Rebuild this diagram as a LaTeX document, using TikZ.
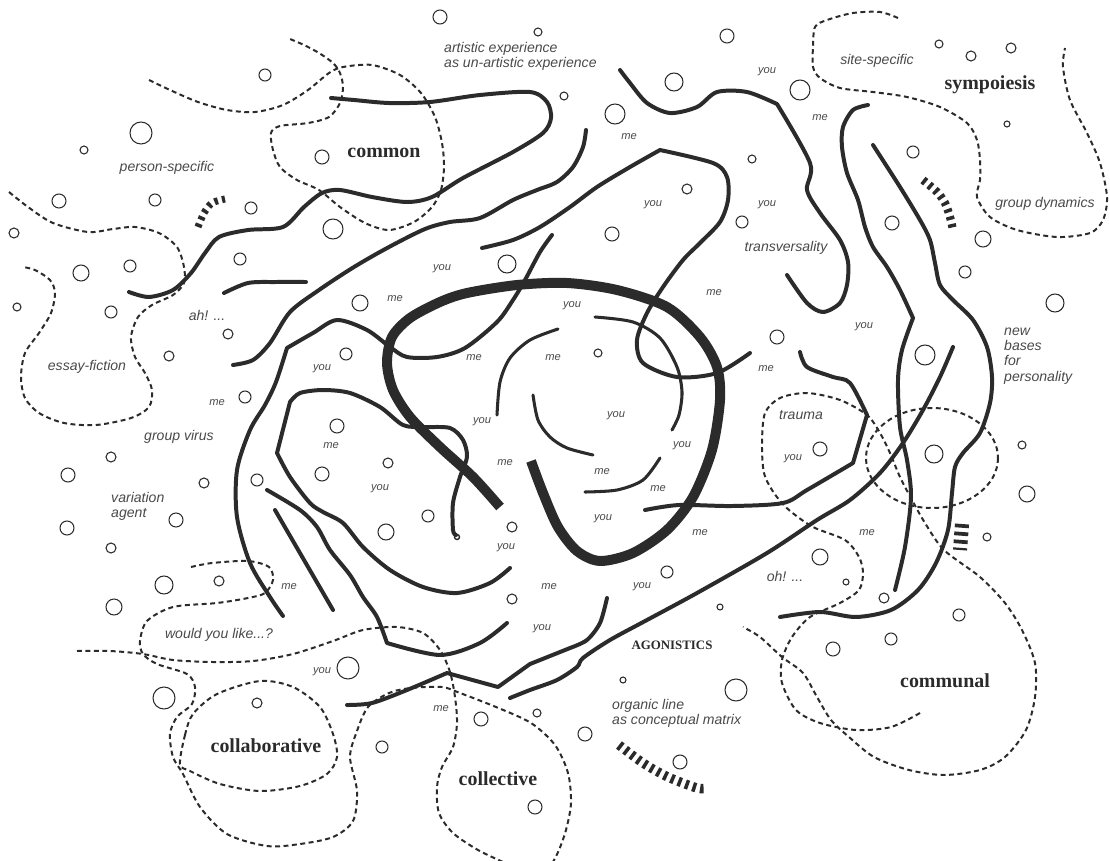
\documentclass[tikz,border=0pt]{standalone}
\usepackage{fontspec}
\setmainfont{Liberation Serif}
\newfontfamily\labelfont{Liberation Sans}
\usetikzlibrary{calc}
\definecolor{ink}{HTML}{2B2B2B}
\definecolor{txt}{HTML}{4A4A4A}

\begin{document}
\begin{tikzpicture}[x=0.03cm,y=-0.03cm,
  strand/.style={draw=ink,line width=3.4pt,line cap=round,line join=round},
  finestrand/.style={strand,line width=2.6pt},
  ring/.style={draw=ink,line width=8.5pt,line cap=butt,line join=round},
  trail/.style={draw=ink,line width=1.7pt,dash pattern=on 4.2pt off 3pt},
  bubble/.style={draw=ink,line width=0.9pt},
  hatch/.style={draw=ink,line width=#1,dash pattern=on 3pt off 3.6pt},
  word/.style={text=txt,font=\labelfont\itshape\fontsize{12}{13}\selectfont,inner sep=0pt},
  pron/.style={text=txt,font=\labelfont\itshape\fontsize{9.5}{11}\selectfont,inner sep=0pt},
  realm/.style={text=ink,font=\bfseries\fontsize{17}{20}\selectfont,inner sep=0pt}]
\useasboundingbox (0,0) rectangle (1110,861);
\fill[white] (0,0) rectangle (1110,861);

% dotted territories
\draw[trail] plot[smooth] coordinates {(149,80) (170,90) (198,102) (227,110) (255,112) (283,105) (308,90) (329,73) (343,67) (372,65) (400,75) (421,93) (435,117) (442,143) (444,167) (441,190) (432,207) (414,222) (389,230) (365,223) (340,207) (319,190) (297,180) (280,167) (273,150) (271,133) (280,126) (308,123) (329,117) (340,103) (343,87) (340,73) (333,63) (319,53) (304,45) (290,39)};
\draw[trail] plot[smooth] coordinates {(9,192) (28,207) (53,223) (88,232) (113,229) (135,227) (159,233) (177,247) (184,267) (184,283) (173,295) (152,305) (138,317) (131,337) (135,357) (145,373) (152,390) (149,407) (131,418) (96,425) (64,423) (39,413) (25,398) (21,377) (25,353) (39,333) (51,313) (55,293) (50,280) (35,270) (23,267)};
\draw[trail] plot[smooth] coordinates {(898,18) (880,12) (853,13) (827,20) (815,27) (813,47) (813,67) (820,78) (840,88) (873,92) (907,97) (940,107) (967,123) (977,140) (980,160) (980,180) (977,197) (990,217) (1017,230) (1057,237) (1090,233) (1103,220) (1107,197) (1100,163) (1087,133) (1070,100) (1063,67) (1065,48)};
\draw[trail] plot[smooth] coordinates {(920,713) (891,727) (856,730) (820,723) (796,710) (782,683) (782,660) (792,637) (810,617) (840,603) (859,590) (863,573) (859,557) (845,540) (813,527) (789,510) (774,493) (764,473) (762,443) (765,413) (780,398) (807,393) (840,400) (867,415) (880,433) (890,453) (900,477) (912,500) (925,523) (944,550) (980,577) (1005,603) (1022,630) (1035,663) (1035,697) (1026,730) (1005,757) (980,770) (944,775) (909,770) (874,757) (849,737) (831,720) (817,697) (803,673) (782,657) (760,637) (743,627)};
\draw[trail] (932,458) ellipse[x radius=66,y radius=50];
\draw[trail] plot[smooth] coordinates {(77,651) (110,651) (143,654) (173,660) (213,662) (253,661) (293,654) (333,641) (363,630) (397,627) (423,633) (440,650) (450,672) (455,697) (457,723) (453,747) (442,767) (437,787) (439,813) (453,833) (478,850) (503,862)};
\draw[trail] plot[smooth] coordinates {(191,567) (212,563) (248,561) (269,567) (273,580) (265,593) (248,598) (217,603) (173,607) (147,621) (140,641) (143,654) (157,664) (187,674) (195,687) (192,704) (177,717) (170,734) (173,757) (183,774) (200,807) (227,834) (267,846) (300,844) (333,837) (353,821) (357,791) (350,757) (357,731) (368,707) (389,693) (411,688) (442,687) (460,693) (496,707) (531,723) (555,745) (568,773) (571,803) (566,830) (559,850) (553,862)};
\draw[trail] plot[smooth cycle] coordinates {(180,764) (185,735) (193,714) (217,694) (260,681) (293,687) (320,707) (333,734) (337,757) (327,774) (300,786) (260,791) (220,784) (190,771)};

% organic lines
\draw[strand] plot[smooth] coordinates {(129,292) (149,297) (173,290) (191,273) (205,253) (219,237) (248,230) (283,227) (304,207) (322,193) (340,190) (372,197) (407,202) (432,197) (463,178) (513,152) (543,133) (551,118) (547,102) (530,92) (480,95) (430,102) (389,103) (354,100) (331,98)};
\draw[strand] plot[smooth] coordinates {(224,293) (248,283) (276,282) (306,282)};
\draw[strand] plot[smooth] coordinates {(233,365) (253,360) (270,343) (290,312) (319,290) (354,267) (389,247) (425,229) (450,222) (480,218) (513,200) (537,190) (557,182) (573,167) (583,147) (586,130)};
\draw[strand] plot[smooth] coordinates {(482,248) (513,240) (540,227) (570,207) (597,187) (630,167) (660,150)}
  -- plot[smooth] coordinates {(660,150) (713,163) (727,177) (728,200) (720,222) (700,243) (683,260) (663,287) (647,313) (637,340) (643,363) (677,377) (717,373) (750,353)};
\draw[strand] plot[smooth] coordinates {(620,70) (630,83) (647,103) (670,113) (697,107) (717,92) (747,92) (777,104)}
  -- plot[smooth] coordinates {(777,104) (810,163) (807,190) (820,213) (840,240) (848,262) (847,285) (840,303) (823,312) (807,303) (787,275)};
\draw[strand] plot[smooth] coordinates {(868,105) (853,110) (843,127) (842,147) (847,173) (858,200) (865,227) (873,247) (887,267) (900,290) (913,318)}
  -- plot[smooth] coordinates {(913,318) (902,350) (898,380) (900,427) (907,460) (911,497) (905,547) (895,590)};
\draw[strand] plot[smooth] coordinates {(873,145) (900,187) (920,220) (930,240) (935,263) (940,285) (953,300) (973,320) (987,347) (992,377) (990,403) (980,433) (963,453) (955,467) (952,493) (948,530) (936,563) (918,590) (891,610) (856,617) (820,612) (780,617)};
\draw[strand] plot[smooth] coordinates {(953,347) (940,377) (923,410) (903,443) (880,473) (850,500) (817,520) (767,553) (697,593) (647,620) (610,640) (583,658) (577,667) (557,680) (530,690) (510,698)};
\draw[strand] plot[smooth] coordinates {(607,598) (600,623) (587,640) (570,648)} -- (530,664) -- (498,687) -- (447,673)
  -- plot[smooth] coordinates {(447,673) (407,690) (372,703) (347,705)};
\draw[strand] plot[smooth] coordinates {(510,568) (490,583) (457,593) (423,587) (390,570) (363,547) (343,523) (323,512) (310,503) (290,477) (277,453)}
  -- (290,402) -- plot[smooth] coordinates {(290,402) (300,393) (323,390) (350,393) (380,407) (403,425) (423,427) (450,428) (463,440) (467,457) (460,477) (453,503) (453,530) (456,535)};
\draw[ink,line width=1.2pt] (457,537) circle[radius=2.5];
\draw[strand] plot[smooth] coordinates {(283,616) (270,597) (250,563) (237,517) (237,470) (250,430) (265,405) (276,382) (287,348)}
  -- plot[smooth] coordinates {(287,348) (313,333) (337,320) (367,330) (390,347) (407,357) (437,357) (465,348) (497,322) (513,300) (525,280) (540,252) (552,235)};
\draw[strand] plot[smooth] coordinates {(267,490) (300,510) (317,527) (330,550) (350,575) (363,597) (377,617) (387,643)}
  -- plot[smooth] coordinates {(387,643) (440,655) (480,643) (507,623)};
\draw[strand] (275,510) -- (333,610);
\draw[strand] plot[smooth] coordinates {(645,510) (679,505) (732,506) (783,503) (807,490) (853,463)} -- (867,415)
  -- plot[smooth] coordinates {(867,415) (850,383) (833,377) (807,367) (800,352)};

% inner arcs
\draw[finestrand] plot[smooth] coordinates {(558,329) (530,340) (510,358) (500,382) (497,415)};
\draw[finestrand] plot[smooth] coordinates {(595,317) (633,322) (660,338) (677,367) (682,392) (679,415) (672,430)};
\draw[finestrand] plot[smooth] coordinates {(533,395) (538,420) (550,437) (567,448) (593,455)};
\draw[finestrand] plot[smooth] coordinates {(660,458) (643,480) (617,490) (585,492)};

% the heavy ring
\draw[ring] plot[smooth] coordinates {(500,507) (473,477) (440,447) (410,417) (393,390) (387,363) (392,337) (410,318) (440,302) (467,293) (517,285) (567,283) (617,290) (667,307) (700,337) (717,367) (720,400) (712,450) (693,497) (667,530) (633,553) (600,561) (577,551) (558,527) (543,493) (531,461)};

% hatched marks
\draw[hatch=6pt] plot[smooth] coordinates {(198,227) (204,213) (212,203) (225,199)};
\draw[hatch=7pt] plot[smooth] coordinates {(923,180) (937,192) (945,203) (950,217) (953,230)};
\draw[hatch=8pt] plot[smooth] coordinates {(619,745) (643,763) (668,777) (697,788) (707,788)};
\draw[draw=ink,line width=12pt,dash pattern=on 3.2pt off 3.6pt] (962,524) -- (960,550);

% bubbles
\foreach \cx/\cy/\cr in {440/17/7, 538/32/4, 265/75/6, 141/133/11, 84/150/4, 322/157/7, 59/201/7, 155/200/6,
  251/208/6, 333/229/10, 14/233/5, 81/273/8, 130/266/6, 240/259/6, 507/264/9, 17/307/4, 111/312/6, 360/303/8,
  228/334/5, 169/356/5, 346/354/6, 245/397/6, 337/426/7, 727/36/7, 674/82/9, 564/96/4, 615/114/10, 800/90/10,
  939/44/4, 971/56/5, 1011/48/5, 1007/124/3, 913/152/6, 752/159/4, 687/189/5, 612/234/7, 742/222/6, 892/223/7,
  983/239/8, 965/272/6, 1055/303/9, 777/337/7, 598/353/4, 925/355/10, 820/449/7, 934/454/9, 1022/445/4,
  1027/494/8, 987/537/4, 820/557/8, 667/572/6, 846/582/3, 884/598/5, 720/607/3, 959/615/6, 891/639/6,
  833/649/7, 623/680/3, 736/690/11, 585/734/7, 680/762/7, 111/457/5, 68/475/7, 204/483/5, 257/480/6,
  322/474/7, 388/463/5, 176/520/7, 67/528/7, 428/516/6, 386/532/8, 512/527/5, 111/548/5, 164/585/9,
  219/581/5, 114/607/8, 512/599/5, 348/668/11, 164/698/11, 257/703/5, 382/747/6, 481/719/7, 537/713/4,
  535/807/7}
  \draw[bubble] (\cx,\cy) circle[radius=\cr];

% realms
\node[realm] (common) at (384,153) {common};
\node[realm] (sympoiesis) at (990,85) {sympoiesis};
\node[realm] (collaborative) at (266,746) {collaborative};
\node[realm] (collective) at (498,779) {collective};
\node[realm] (communal) at (945,681) {communal};
\node[text=ink,font=\bfseries\fontsize{11}{13}\selectfont,inner sep=0pt] (agonistics) at (672,645) {AGONISTICS};

% notes
\node[word,anchor=west,align=left] (artistic) at (444,56) {artistic experience\\as un-artistic experience};
\node[word] (personspecific) at (167,168) {person-specific};
\node[word] (ah) at (207,315) {ah! ...};
\node[word] (essay) at (87,367) {essay-fiction};
\node[word] (virus) at (179,437) {group virus};
\node[word,anchor=west,align=left] (variation) at (111,506) {variation\\agent};
\node[word] (wouldyou) at (219,635) {would you like...?};
\node[word] (sitespecific) at (877,61) {site-specific};
\node[word] (dynamics) at (1045,204) {group dynamics};
\node[word] (transversality) at (786,248) {transversality};
\node[word,anchor=west,align=left] (bases) at (1004,356) {new\\bases\\for\\personality};
\node[word] (trauma) at (801,415) {trauma};
\node[word] (oh) at (785,576) {oh! ...};
\node[word,anchor=west,align=left] (organic) at (612,713) {organic line\\as conceptual matrix};

% you and me
\node[pron] (you1) at (442,269) {you};
\node[pron] (you2) at (322,369) {you};
\node[pron] (you3) at (482,422) {you};
\node[pron] (you4) at (572,306) {you};
\node[pron] (you5) at (616,416) {you};
\node[pron] (you6) at (682,446) {you};
\node[pron] (you7) at (380,489) {you};
\node[pron] (you8) at (506,548) {you};
\node[pron] (you9) at (603,519) {you};
\node[pron] (you10) at (542,629) {you};
\node[pron] (you11) at (642,587) {you};
\node[pron] (you12) at (322,672) {you};
\node[pron] (you13) at (653,205) {you};
\node[pron] (you14) at (767,205) {you};
\node[pron] (you15) at (767,72) {you};
\node[pron] (you16) at (864,327) {you};
\node[pron] (you17) at (793,459) {you};
\node[pron] (me1) at (395,299) {me};
\node[pron] (me2) at (474,358) {me};
\node[pron] (me3) at (553,358) {me};
\node[pron] (me4) at (217,403) {me};
\node[pron] (me5) at (331,446) {me};
\node[pron] (me6) at (505,463) {me};
\node[pron] (me7) at (602,472) {me};
\node[pron] (me8) at (658,489) {me};
\node[pron] (me9) at (700,533) {me};
\node[pron] (me10) at (289,587) {me};
\node[pron] (me11) at (549,587) {me};
\node[pron] (me12) at (441,709) {me};
\node[pron] (me13) at (629,137) {me};
\node[pron] (me14) at (820,118) {me};
\node[pron] (me15) at (714,293) {me};
\node[pron] (me16) at (766,369) {me};
\node[pron] (me17) at (867,533) {me};
\end{tikzpicture}
\end{document}
